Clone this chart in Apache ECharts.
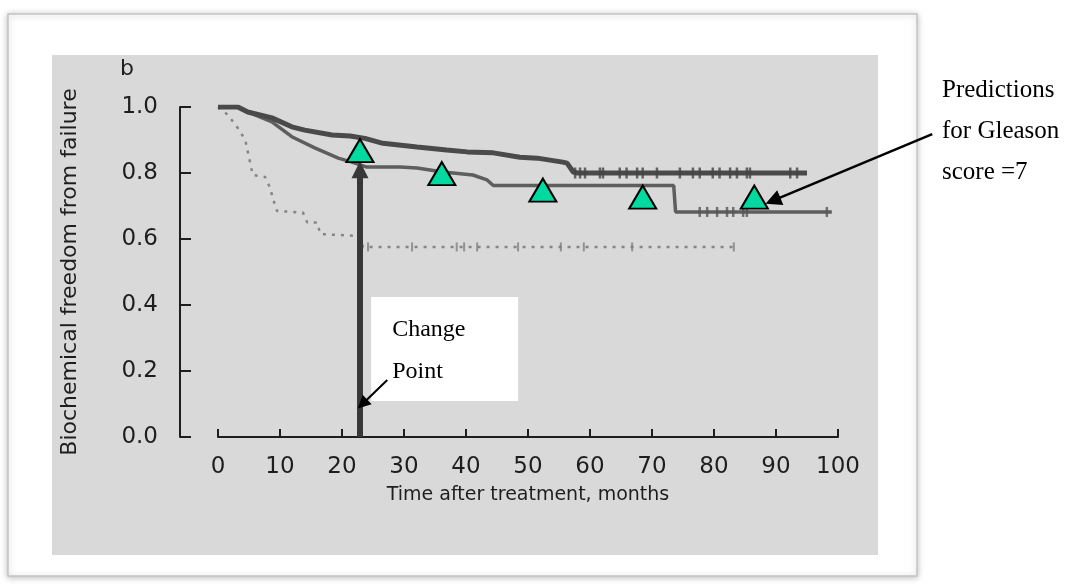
<!DOCTYPE html>
<html><head><meta charset="utf-8">
<script src="https://cdn.jsdelivr.net/npm/echarts@6/dist/echarts.min.js"></script>
<style>html,body{margin:0;padding:0;background:#fff}#c{width:1073px;height:588px}</style>
</head><body><div id="c"></div>
<script>
// ---- data ----
const xTicks = [0,10,20,30,40,50,60,70,80,90,100];
const yTicks = ['0.0','0.2','0.4','0.6','0.8','1.0'];

const topCurve = [[0,1.0],[3.2,1.0],[4.8,0.985],[8.7,0.967],[11.9,0.94],[14,0.93],[18.4,0.915],[21.3,0.912],[23.7,0.905],[26.6,0.89],[32.1,0.879],[36.9,0.87],[40.2,0.864],[44.4,0.861],[48.7,0.848],[51.5,0.845],[55.6,0.833],[56.3,0.83],[57.3,0.803],[58,0.8],[95,0.8]];
const midCurve = [[0,1.0],[3.2,1.0],[4.8,0.985],[8.7,0.955],[11.9,0.91],[15.6,0.876],[19.4,0.845],[21.6,0.833],[24,0.818],[29.4,0.818],[32.1,0.815],[36.3,0.803],[41.1,0.794],[43.4,0.779],[44.4,0.762],[73.5,0.762],[73.8,0.682],[99,0.682]];
const lowCurve = [[0,1.0],[1.6,0.976],[3.2,0.936],[4.4,0.9],[5.2,0.83],[5.6,0.794],[7.6,0.788],[8.4,0.755],[8.9,0.72],[9.5,0.685],[13.7,0.68],[14.4,0.65],[16,0.65],[16.5,0.615],[21.8,0.61],[22.6,0.61],[23.4,0.576],[83.5,0.576]];

const topCensor = [[57.6,0.8],[58.4,0.8],[59.2,0.8],[61.6,0.8],[62.1,0.8],[64.8,0.8],[65.9,0.8],[67.6,0.8],[68.5,0.8],[70.8,0.8],[74.5,0.8],[76.6,0.8],[77.7,0.8],[79.8,0.8],[80.9,0.8],[82.6,0.8],[83.7,0.8],[85.3,0.8],[85.8,0.8],[92.3,0.8],[93.4,0.8]];
const midCensor = [[77.7,0.682],[78.9,0.682],[80.5,0.682],[82.1,0.682],[83.1,0.682],[84.7,0.682],[85.3,0.682],[98.2,0.682]];
const lowCensor = [[24.2,0.576],[31.3,0.576],[38.5,0.576],[39.7,0.576],[41.8,0.576],[48.4,0.576],[55.3,0.576],[59,0.576],[66.8,0.576],[83.2,0.576]];

const predictions = [[22.9,0.868],[36.1,0.798],[52.4,0.748],[68.5,0.727],[86.5,0.727]];

const changePointArrow = [[22.9,0],[22.9,0.81]];
const changeLabelArrow = [[27.3,0.173],[23.3,0.1]];
const predLabelArrow = [[115.2,0.918],[89.5,0.716]];
const changeBox = [[24.7,0.424],[48.4,0.109]];
// --------------------------------------

const chart = echarts.init(document.getElementById('c'));
const sans = 'DejaVu Sans';
const serif = 'Liberation Serif';
const ink = '#1e1e1e';

chart.setOption({
  backgroundColor: '#ffffff',
  animation: false,
  graphic: [
    {type:'rect', z:-100, shape:{x:8,y:14,width:909,height:562}, style:{fill:'#fff', stroke:'#c4c4c4', lineWidth:1.5, shadowBlur:6, shadowColor:'rgba(0,0,0,0.25)', shadowOffsetY:1}},
    {type:'rect', z:-99, shape:{x:52,y:55,width:826,height:500}, style:{fill:'#d9d9d9'}},
    {type:'text', z:10, left:120, top:58, style:{text:'b', font:'22px "DejaVu Sans"', fill:ink}},
    {type:'text', z:10, left:942, top:70, style:{text:'Predictions\nfor Gleason\nscore =7', font:'25px "Liberation Serif"', lineHeight:41, fill:'#000'}}
  ],
  grid: {left:218, right:235, top:107, bottom:151, containLabel:false},
  xAxis: {
    type:'value', min:0, max:100, interval:10,
    axisLine:{show:true, onZero:false, lineStyle:{color:ink, width:2}},
    axisTick:{show:true, inside:true, length:8, lineStyle:{color:ink, width:2}},
    axisLabel:{fontFamily:sans, fontSize:23, color:ink, margin:19, formatter:v=>String(v)},
    splitLine:{show:false},
    name:'Time after treatment, months', nameLocation:'middle', nameGap:49,
    nameTextStyle:{fontFamily:sans, fontSize:19, color:ink}
  },
  yAxis: {
    type:'value', min:0, max:1, interval:0.2, offset:38,
    axisLine:{show:true, onZero:false, lineStyle:{color:ink, width:2}},
    axisTick:{show:true, inside:true, length:11, lineStyle:{color:ink, width:2}},
    axisLabel:{fontFamily:sans, fontSize:23, color:ink, margin:22, formatter:(v)=>yTicks[Math.round(v*5)]},
    splitLine:{show:false},
    name:'Biochemical freedom from failure', nameLocation:'middle', nameRotate:90, nameGap:99,
    nameTextStyle:{fontFamily:sans, fontSize:22, color:ink}
  },
  series: [
    {type:'line', data:lowCurve, showSymbol:false, z:2, lineStyle:{color:'#858585', width:2.5, type:[3,6]},
      markArea:{silent:true, itemStyle:{color:'#ffffff', opacity:1},
        label:{show:true, position:'insideTopLeft', distance:0, offset:[21,12], formatter:'Change\nPoint', fontFamily:serif, fontSize:24, lineHeight:42, color:'#000'},
        data:[[{coord:changeBox[0]},{coord:changeBox[1]}]]}},
    {type:'line', data:midCurve, showSymbol:false, z:3, lineStyle:{color:'#5e5e5e', width:3.5}},
    {type:'line', data:topCurve, showSymbol:false, z:4, lineStyle:{color:'#4a4a4a', width:5}},
    {type:'scatter', data:lowCensor, symbol:'rect', symbolSize:[2,9], z:3, itemStyle:{color:'#808080'}},
    {type:'scatter', data:midCensor, symbol:'rect', symbolSize:[2.5,10], z:4, itemStyle:{color:'#555'}},
    {type:'scatter', data:topCensor, symbol:'rect', symbolSize:[2.5,11], z:5, itemStyle:{color:'#444'}},
    {type:'lines', coordinateSystem:'cartesian2d', clip:false, z:6, symbol:['none','triangle'], symbolSize:[0,17],
      lineStyle:{color:'#383838', width:6, opacity:1}, data:[{coords:changePointArrow}]},
    {type:'lines', coordinateSystem:'cartesian2d', clip:false, z:6, symbol:['none','triangle'], symbolSize:[0,13],
      lineStyle:{color:'#000', width:2, opacity:1}, data:[{coords:changeLabelArrow}]},
    {type:'lines', coordinateSystem:'cartesian2d', clip:false, z:6, symbol:['none','triangle'], symbolSize:[0,16],
      lineStyle:{color:'#000', width:2.5, opacity:1}, data:[{coords:predLabelArrow}]},
    {type:'scatter', data:predictions, symbol:'triangle', symbolSize:[27,23], z:8,
      itemStyle:{color:'#00d9a0', borderColor:'#000', borderWidth:2, opacity:1}}
  ]
});
</script>
</body></html>
